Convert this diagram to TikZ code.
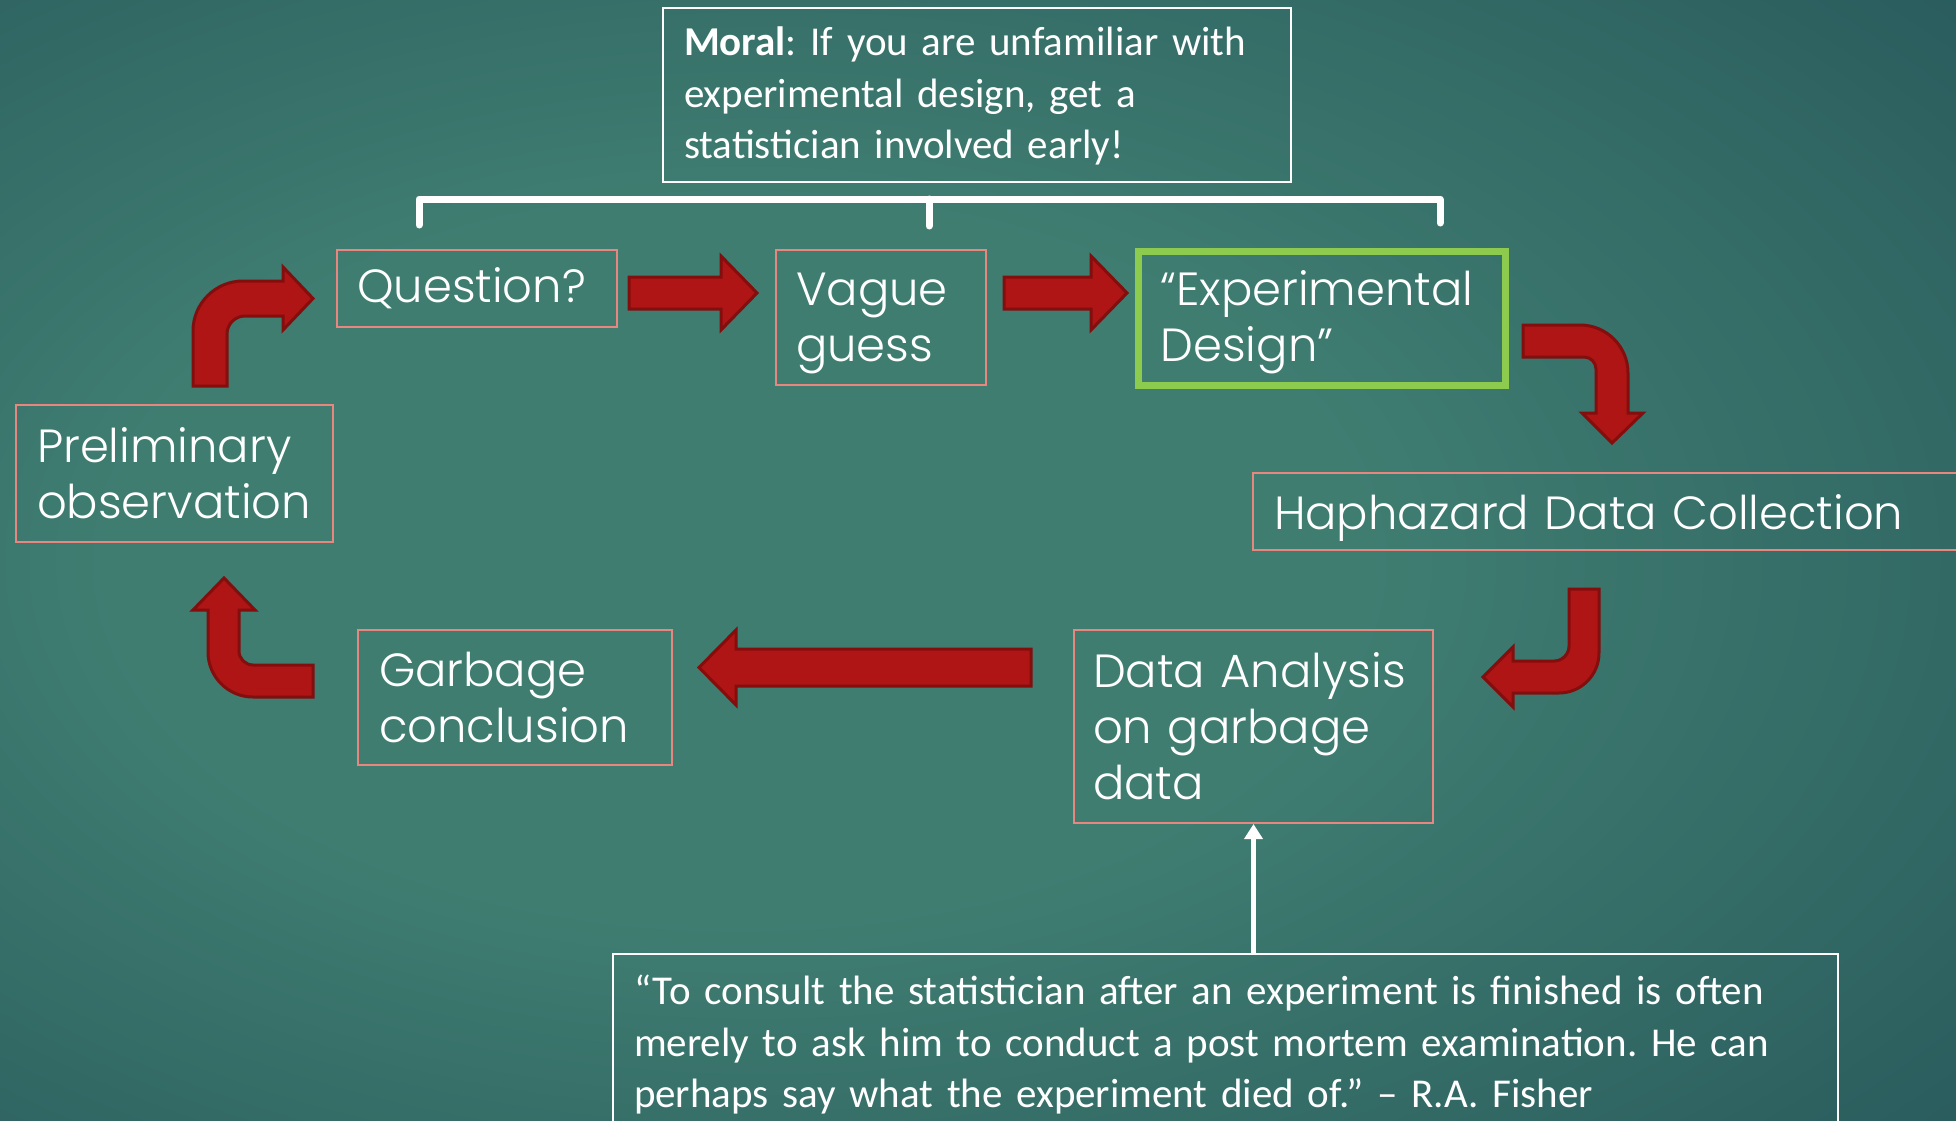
\documentclass[tikz,border=0pt]{standalone}
\usepackage{fontspec}
\setmainfont{Carlito}
\newfontfamily\gothicfont{Poppins Light}
\usetikzlibrary{arrows.meta}
\definecolor{bgin}{HTML}{3F7D71}
\definecolor{bgout}{HTML}{1D4851}
\definecolor{boxline}{HTML}{E8877F}
\definecolor{arrfill}{HTML}{B01515}
\definecolor{arrline}{HTML}{820E0E}
\definecolor{greenline}{HTML}{8DCB4E}
\hyphenpenalty=10000
\exhyphenpenalty=10000
\pgfdeclareradialshading{bgshade}{\pgfpoint{-8bp}{0bp}}{color(0bp)=(bgin); color(16bp)=(bgin); color(52bp)=(bgout); color(70bp)=(bgout)}
\begin{document}
\frenchspacing
\begin{tikzpicture}[x=1pt,y=-1pt,
  stepbox/.style={draw=boxline, line width=2pt, rectangle, anchor=north west, align=left, text=white,
    font=\gothicfont\fontsize{46.5}{56}\selectfont, inner ysep=0pt},
  blockarrow/.style={fill=arrfill, draw=arrline, line width=3pt, line join=miter},
  notebox/.style={draw=white, line width=2pt, rectangle, anchor=north west, align=left, text=white,
    font=\fontsize{41}{51.5}\selectfont},
  bracketline/.style={white, line width=7pt, line cap=round, line join=round}
]
\clip (0,0) rectangle (1956,1121);
\shade[shading=bgshade] (0,0) rectangle (1956,1121);

% boxes
\node[notebox, minimum width=628pt, minimum height=174pt, inner xsep=21pt, inner ysep=0pt, text width=586pt]
  (moral) at (662,7) {\rule{0pt}{31pt}\textbf{Moral}: If you are unfamiliar with\\experimental design, get a\\statistician involved early!};

\node[stepbox, minimum width=280pt, minimum height=77pt, inner xsep=19pt, text width=240pt]
  (question) at (336,249) {Question?};
\node[stepbox, minimum width=210pt, minimum height=135pt, inner xsep=19pt, text width=170pt]
  (vague) at (775,249) {\rule{0pt}{44pt}Vague\\guess};
\node[stepbox, draw=greenline, line width=7pt, minimum width=367pt, minimum height=134pt, inner xsep=21pt, text width=323pt]
  (design) at (1135,248) {\rule{0pt}{42pt}“Experimental\\Design”};
\node[stepbox, minimum width=317pt, minimum height=137pt, inner xsep=20pt, text width=275pt]
  (prelim) at (15,404) {Preliminary\\observation};
\node[stepbox, minimum width=760pt, minimum height=77pt, inner xsep=20pt, text width=718pt, text height=35pt, text depth=0pt]
  (haphazard) at (1252,472) {Haphazard Data Collection};
\node[stepbox, minimum width=359pt, minimum height=193pt, inner xsep=18pt, text width=321pt]
  (analysis) at (1073,629) {Data Analysis\\on garbage\\data};
\node[stepbox, minimum width=314pt, minimum height=135pt, inner xsep=20pt, text width=272pt]
  (garbage) at (357,629) {Garbage\\conclusion};

\node[notebox, minimum width=1225pt, inner xsep=20pt, inner ysep=21pt, text width=1183pt]
  (quote) at (612,953) {“To consult the statistician after an experiment is finished is often\\merely to ask him to conduct a post mortem examination. He can\\perhaps say what the experiment died of.” – R.A. Fisher};

% bracket
\draw[bracketline] (419,225) -- (419,199) -- (1440,199) -- (1440,223);
\draw[bracketline] (929,199) -- (929,226);

% white arrow
\draw[white, line width=4.5pt, -{Triangle[width=18pt,length=15pt]}] (analysis.south |- quote.north) -- (analysis.south);

% block arrows
\draw[blockarrow] (629,277) -- (721,277) -- (721,256) -- (757,293) -- (721,330) -- (721,309) -- (629,309) -- cycle;
\draw[blockarrow] (1004,277) -- (1091,277) -- (1091,256) -- (1127,293) -- (1091,330) -- (1091,309) -- (1004,309) -- cycle;
\draw[blockarrow] (1031,649) -- (736,649) -- (736,630) -- (699,667.5) -- (736,705) -- (736,686) -- (1031,686) -- cycle;

% top-left bent arrow (up then right)
\draw[blockarrow] (193,386) -- (193,331) arc[start angle=180, end angle=270, radius=50]
  -- (283,281) -- (283,267) -- (313,298.5) -- (283,330) -- (283,316) -- (245,316)
  arc[start angle=270, end angle=180, radius=18] -- (227,386) -- cycle;

% bottom-left bent arrow (right part then up)
\draw[blockarrow] (224,578) -- (255,610) -- (239,610) -- (239,651)
  arc[start angle=180, end angle=90, radius=14] -- (313,665) -- (313,697) -- (253,697)
  arc[start angle=90, end angle=180, radius=45] -- (208,610) -- (193,610) -- cycle;

% top-right bent arrow (right then down)
\draw[blockarrow] (1523,325) -- (1580,325) arc[start angle=270, end angle=360, radius=48]
  -- (1628,413) -- (1643,413) -- (1612,443) -- (1582,413) -- (1596,413) -- (1596,369)
  arc[start angle=0, end angle=-90, radius=12] -- (1523,357) -- cycle;

% right bent arrow (down then left)
\draw[blockarrow] (1569,589) -- (1599,589) -- (1599,653) arc[start angle=0, end angle=90, radius=40]
  -- (1513,693) -- (1513,707) -- (1483,677) -- (1513,647) -- (1513,661) -- (1554,661)
  arc[start angle=90, end angle=0, radius=15] -- cycle;
\end{tikzpicture}
\end{document}
